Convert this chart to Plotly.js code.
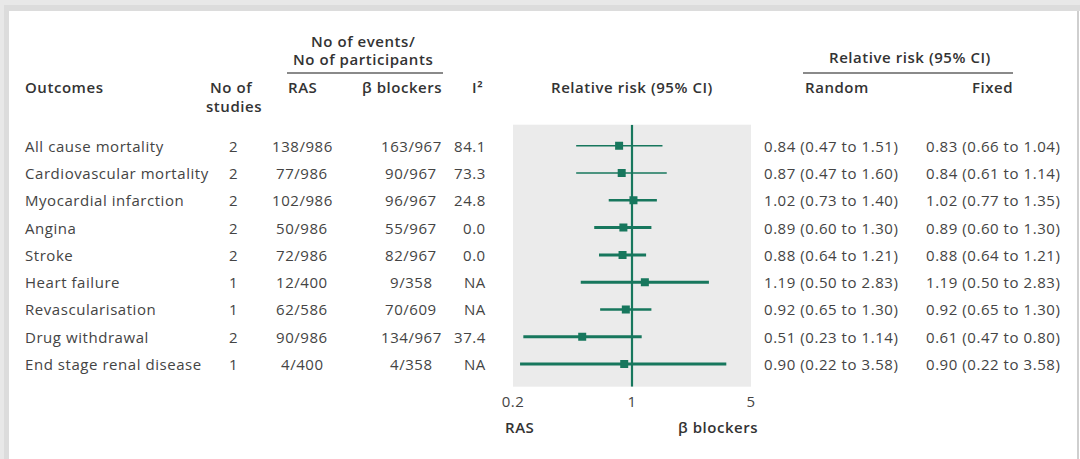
<!DOCTYPE html>
<html>
<head>
<meta charset="utf-8">
<script src="https://cdn.plot.ly/plotly-3.0.1.min.js"></script>
<style>
html,body{margin:0;padding:0;background:#fff;}
#chart{width:1080px;height:459px;}
text.annotation-text, .xtick text{letter-spacing:0.55px;}
</style>
</head>
<body>
<div id="chart"></div>
<script>
// ---- data ----
const outcomes = ["All cause mortality","Cardiovascular mortality","Myocardial infarction","Angina","Stroke","Heart failure","Revascularisation","Drug withdrawal","End stage renal disease"];
const nStudies = ["2","2","2","2","2","1","1","2","1"];
const rasEvents = ["138/986","77/986","102/986","50/986","72/986","12/400","62/586","90/986","4/400"];
const bbEvents = ["163/967","90/967","96/967","55/967","82/967","9/358","70/609","134/967","4/358"];
const iSquared = ["84.1","73.3","24.8","0.0","0.0","NA","NA","37.4","NA"];
const rrRandom = [0.84,0.87,1.02,0.89,0.88,1.19,0.92,0.51,0.90];
const ciLowRandom = [0.47,0.47,0.73,0.60,0.64,0.50,0.65,0.23,0.22];
const ciHighRandom = [1.51,1.60,1.40,1.30,1.21,2.83,1.30,1.14,3.58];
const rrFixed = [0.83,0.84,1.02,0.89,0.88,1.19,0.92,0.61,0.90];
const ciLowFixed = [0.66,0.61,0.77,0.60,0.64,0.50,0.65,0.47,0.22];
const ciHighFixed = [1.04,1.14,1.35,1.30,1.21,2.83,1.30,0.80,3.58];
const tickValues = [0.2,1,5];
const tickLabels = ["0.2","1","5"];

// ---- styles ----
const teal = "#17775d";
const ciWidths = [1.5,1.5,2.5,3,3,3,2.5,3.2,3];
const W = 1080, H = 459;
const px = v => v / W;
const py = v => 1 - v / H;
const fmt = (e, l, h) => e.toFixed(2) + " (" + l.toFixed(2) + " to " + h.toFixed(2) + ")";
const FONT = "Open Sans, Noto Sans, sans-serif";
const txt = "#444444";

const idx = outcomes.map((_, i) => i);
const traces = [];
// reference line at 1
traces.push({x:[1,1], y:[-0.77,8.83], mode:"lines", line:{color:teal,width:2.2}, hoverinfo:"skip", showlegend:false});
idx.forEach(i => {
  traces.push({x:[ciLowRandom[i], ciHighRandom[i]], y:[i,i], mode:"lines",
    line:{color:teal,width:ciWidths[i]}, hoverinfo:"skip", showlegend:false});
});
traces.push({x:rrRandom, y:idx, mode:"markers", marker:{symbol:"square", size:8, color:teal}, showlegend:false});

const ann = [];
const cell = (text, x, y, anchor) => ann.push({
  text, xref:"paper", yref:"y", x:px(x), y, xanchor:anchor, yanchor:"middle", showarrow:false,
  font:{family:FONT, size:15, color:txt}});
idx.forEach(i => {
  cell(outcomes[i], 23, i, "left");
  cell(nStudies[i], 233, i, "center");
  cell(rasEvents[i], 302, i, "center");
  cell(bbEvents[i], 411, i, "center");
  cell(iSquared[i], 488, i, "right");
  cell(fmt(rrRandom[i], ciLowRandom[i], ciHighRandom[i]), 762, i, "left");
  cell(fmt(rrFixed[i], ciLowFixed[i], ciHighFixed[i]), 924, i, "left");
});
const head = (text, x, y, anchor) => ann.push({
  text, xref:"paper", yref:"paper", x:px(x), y:py(y), xanchor:anchor, yanchor:"middle", showarrow:false,
  font:{family:FONT, size:15, color:"#333", weight:600}});
head("No of events/", 363, 41, "center");
head("No of participants", 363, 59, "center");
head("Outcomes", 23, 87, "left");
head("No of", 231, 87, "center");
head("studies", 234, 106, "center");
head("RAS", 302, 87, "center");
head("β blockers", 402, 87, "center");
head("I²", 477, 87, "center");
head("Relative risk (95% CI)", 632, 87, "center");
head("Relative risk (95% CI)", 910, 57, "center");
head("Random", 803, 87, "left");
head("Fixed", 1015, 87, "right");
head("RAS", 503, 427, "left");
head("β blockers", 760, 427, "right");

const shapes = [
  {type:"line", xref:"paper", yref:"paper", x0:px(287), x1:px(443), y0:py(73), y1:py(73), line:{color:"#8a8a8a", width:2}},
  {type:"line", xref:"paper", yref:"paper", x0:px(803), x1:px(1013), y0:py(73), y1:py(73), line:{color:"#8a8a8a", width:2}},
  // card shadow
  {type:"rect", xref:"paper", yref:"paper", x0:0, x1:px(9), y0:0, y1:1, line:{width:0}, fillcolor:"#e8e8e8"},
  {type:"rect", xref:"paper", yref:"paper", x0:0, x1:1, y0:py(11), y1:1, line:{width:0}, fillcolor:"#e8e8e8"},
  {type:"rect", xref:"paper", yref:"paper", x0:px(4), x1:px(9), y0:0, y1:py(5), line:{width:0}, fillcolor:"#dcdcdc"},
  {type:"rect", xref:"paper", yref:"paper", x0:px(4), x1:1, y0:py(11), y1:py(5), line:{width:0}, fillcolor:"#dcdcdc"},
  {type:"line", xref:"paper", yref:"paper", x0:px(1078), x1:px(1078), y0:0, y1:py(11), line:{color:"#cfcfcf", width:2}}
];

const layout = {
  width:W, height:H, margin:{l:0,r:0,t:0,b:0},
  paper_bgcolor:"#ffffff", plot_bgcolor:"#ebebeb",
  showlegend:false,
  xaxis:{type:"log", domain:[px(513), px(751)], range:[Math.log10(0.2), Math.log10(5)],
    tickvals:tickValues, ticktext:tickLabels, showgrid:false, zeroline:false, showline:false,
    ticks:"outside", ticklen:1, tickcolor:"rgba(0,0,0,0)",
    tickfont:{family:FONT, size:15, color:"#444"}, fixedrange:true},
  yaxis:{domain:[1-386.7/H, 1-124.7/H], range:[8.83,-0.77], visible:false, fixedrange:true},
  annotations:ann, shapes:shapes
};
Plotly.newPlot("chart", traces, layout, {staticPlot:true, displayModeBar:false});
</script>
</body>
</html>
